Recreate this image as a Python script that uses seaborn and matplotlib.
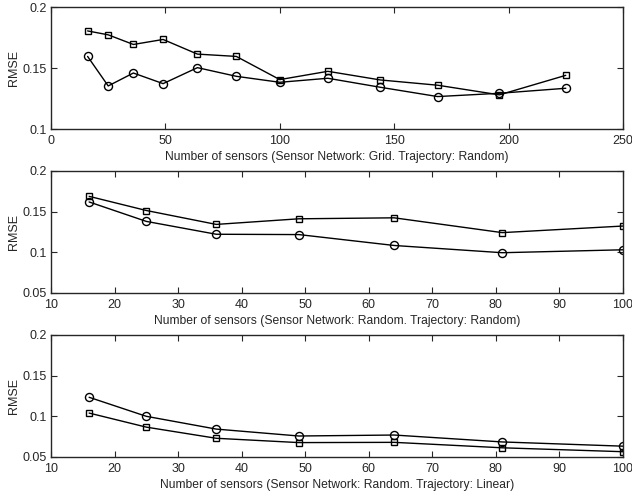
import numpy as np
import pandas as pd
import matplotlib
matplotlib.use('Agg')
import matplotlib.pyplot as plt
import seaborn as sns

# Data
grid_sensors = [16, 25, 36, 49, 64, 81, 100, 121, 144, 169, 196, 225]
grid_square = [0.1804, 0.1772, 0.1693, 0.1734, 0.1614, 0.1595, 0.1405, 0.1473, 0.1402, 0.1359, 0.1280, 0.1440]
grid_circle = [0.1595, 0.1353, 0.1459, 0.1372, 0.1503, 0.1432, 0.1383, 0.1416, 0.1342, 0.1266, 0.1293, 0.1334]

rand_sensors = [16, 25, 36, 49, 64, 81, 100]
rand_square = [0.1688, 0.1514, 0.1343, 0.1412, 0.1424, 0.1242, 0.1323]
rand_circle = [0.1619, 0.1380, 0.1222, 0.1218, 0.1084, 0.0995, 0.1031]

lin_sensors = [16, 25, 36, 49, 64, 81, 100]
lin_square = [0.1040, 0.0867, 0.0730, 0.0677, 0.0680, 0.0613, 0.0565]
lin_circle = [0.1234, 0.1000, 0.0843, 0.0758, 0.0770, 0.0685, 0.0633]

xlabels = [
    'Number of sensors (Sensor Network: Grid. Trajectory: Random)',
    'Number of sensors (Sensor Network: Random. Trajectory: Random)',
    'Number of sensors (Sensor Network: Random. Trajectory: Linear)',
]

sns.set_style('ticks')
plt.rcParams['font.family'] = ['Liberation Sans', 'DejaVu Sans']
plt.rcParams['font.size'] = 9

fig = plt.figure(figsize=(6.32, 4.97), dpi=100)

panels = [
    (grid_sensors, grid_square, grid_circle, (0, 250), np.arange(0, 251, 50), (0.1, 0.2), [0.1, 0.15, 0.2]),
    (rand_sensors, rand_square, rand_circle, (10, 100), np.arange(10, 101, 10), (0.05, 0.2), [0.05, 0.1, 0.15, 0.2]),
    (lin_sensors, lin_square, lin_circle, (10, 100), np.arange(10, 101, 10), (0.05, 0.2), [0.05, 0.1, 0.15, 0.2]),
]
bottoms = [0.7404, 0.4105, 0.0805]

for i, (xs, sq, ci, xlim, xticks, ylim, yticks) in enumerate(panels):
    ax = fig.add_axes([0.0807, bottoms[i], 0.905, 0.2455])
    df = pd.DataFrame({'n': xs, 'square': sq, 'circle': ci})
    sns.lineplot(data=df, x='n', y='square', ax=ax, color='black', lw=1,
                 marker='s', markersize=4.3, markerfacecolor='none',
                 markeredgecolor='black', markeredgewidth=1)
    sns.lineplot(data=df, x='n', y='circle', ax=ax, color='black', lw=1,
                 marker='o', markersize=5.8, markerfacecolor='none',
                 markeredgecolor='black', markeredgewidth=1)
    ax.set_xlim(*xlim)
    ax.set_ylim(*ylim)
    ax.set_xticks(xticks)
    ax.set_yticks(yticks)
    ax.set_yticklabels(['%g' % v for v in yticks])
    ax.set_xticklabels(['%g' % v for v in xticks])
    ax.tick_params(direction='in', length=4, width=0.8, top=True, right=True,
                   labelsize=9)
    ax.tick_params(axis='x', pad=4.5)
    ax.tick_params(axis='y', pad=3)
    for s in ax.spines.values():
        s.set_linewidth(1)
        s.set_visible(True)
    ax.set_xlabel(xlabels[i], fontsize=8.7, labelpad=2.5)
    ax.set_ylabel('RMSE', fontsize=9, labelpad=2)

plt.savefig('out.png', dpi=100)
